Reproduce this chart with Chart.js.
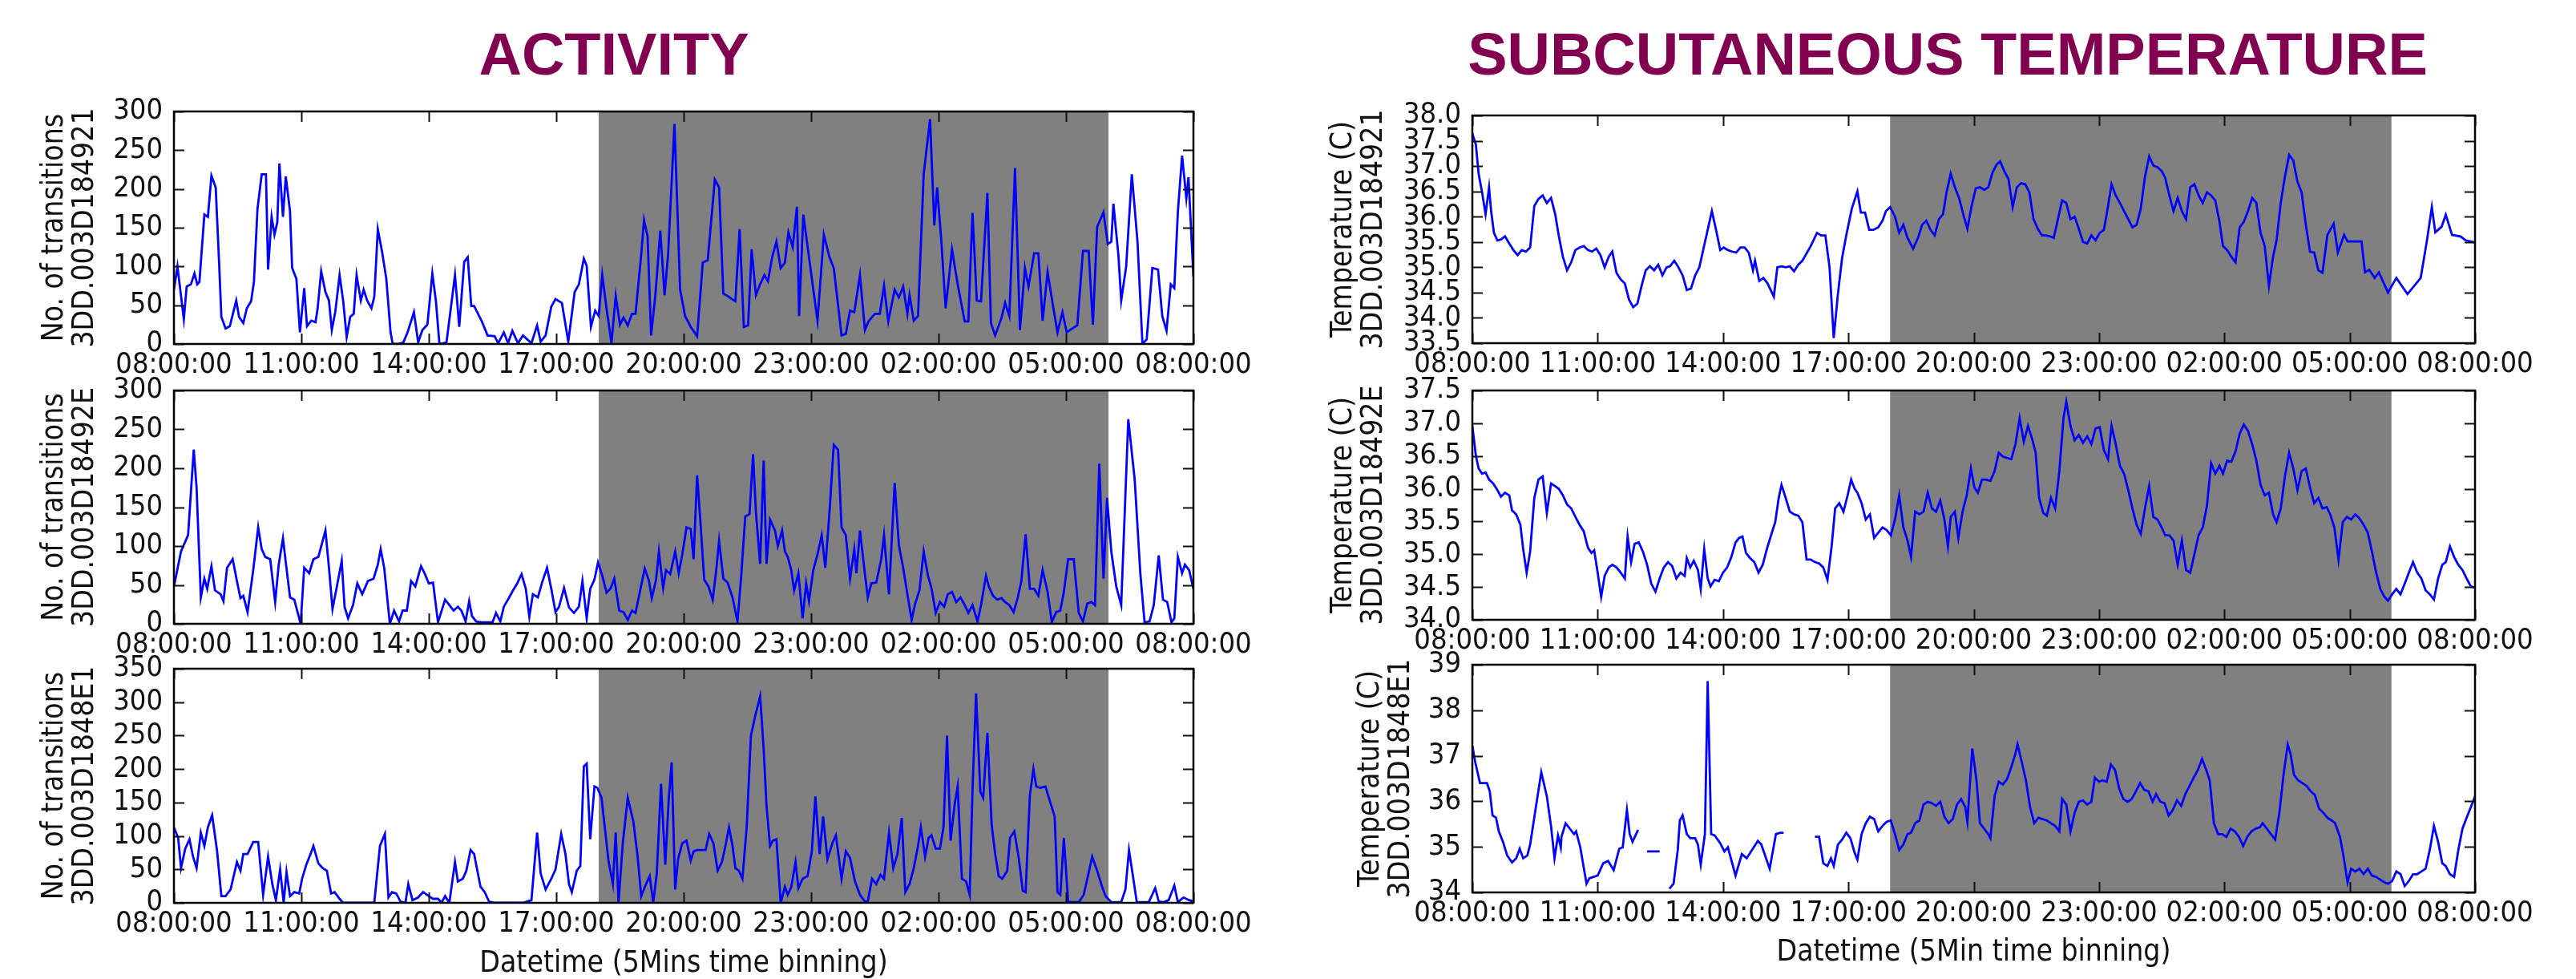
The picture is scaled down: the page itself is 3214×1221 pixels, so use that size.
<!DOCTYPE html>
<html>
<head>
<meta charset="utf-8">
<script src="https://cdn.jsdelivr.net/npm/chart.js@4.4.1/dist/chart.umd.min.js"></script>
<style>
  html, body { margin:0; padding:0; background:#fff; }
  body { width:3214px; height:1221px; overflow:hidden; position:relative; }
  .ttl { position:absolute; top:31px; width:1400px; text-align:center; font-family:"Liberation Sans", Arial, sans-serif;
         font-weight:bold; font-size:74px; line-height:74px; color:#810050; white-space:nowrap; }
</style>
</head>
<body>
<div class="ttl" style="left:66px">ACTIVITY</div>
<div class="ttl" style="left:1730px">SUBCUTANEOUS TEMPERATURE</div>
<script>
// ---------- DATA (time in minutes since 08:00, value) ----------
const X_TICK_LABELS = ['08:00:00','11:00:00','14:00:00','17:00:00','20:00:00','23:00:00','02:00:00','05:00:00','08:00:00'];
const DARK_PERIOD = [600, 1320]; // 18:00 -> 06:00

const ACT_921 = [[0,70],[5,100],[14,32],[18,74],[24,77],[29,91],[33,77],[36,80],[43,167],[48,164],[53,217],[59,202],[64,101],[67,35],[73,20],[79,23],[88,56],[92,35],[98,27],[103,46],[109,55],[113,80],[118,174],[124,219],[130,219],[133,96],[138,164],[142,141],[146,157],[149,233],[154,164],[158,216],[164,171],[167,98],[173,84],[178,15],[184,72],[188,23],[194,30],[200,28],[203,46],[208,94],[214,67],[219,56],[223,18],[228,42],[234,89],[239,56],[244,9],[249,35],[254,39],[258,89],[264,56],[268,70],[273,56],[279,46],[283,61],[288,148],[294,119],[300,84],[306,15],[309,0],[317,0],[324,2],[330,15],[339,41],[345,2],[351,18],[358,25],[365,91],[370,56],[375,0],[385,2],[397,89],[403,22],[410,106],[415,112],[420,49],[424,49],[435,29],[443,11],[453,10],[458,1],[466,15],[472,1],[478,17],[486,1],[493,11],[505,1],[513,24],[518,3],[525,11],[533,48],[539,58],[548,53],[557,3],[566,67],[572,77],[579,110],[583,101],[589,22],[595,43],[600,36],[605,89],[611,46],[618,1],[624,62],[630,25],[635,34],[641,24],[647,39],[652,39],[660,115],[664,160],[669,139],[674,11],[680,63],[687,146],[693,63],[698,115],[707,284],[715,70],[722,36],[730,22],[739,10],[747,105],[754,108],[764,212],[770,202],[776,65],[782,62],[788,58],[793,55],[799,148],[805,22],[811,24],[816,122],[822,63],[828,77],[834,89],[839,81],[845,112],[851,132],[857,98],[863,105],[868,144],[874,125],[880,177],[883,36],[889,167],[897,112],[909,30],[918,141],[926,112],[932,98],[943,11],[949,13],[955,43],[961,41],[969,89],[976,18],[981,29],[990,39],[997,39],[1003,75],[1009,29],[1018,70],[1024,60],[1030,74],[1036,39],[1039,63],[1045,30],[1051,36],[1059,219],[1068,290],[1074,153],[1078,202],[1084,132],[1090,46],[1099,122],[1107,77],[1117,29],[1122,29],[1128,169],[1134,56],[1140,55],[1149,195],[1154,27],[1160,11],[1169,34],[1174,53],[1180,36],[1188,227],[1195,18],[1202,98],[1207,74],[1215,117],[1221,117],[1227,30],[1234,93],[1241,53],[1248,15],[1255,41],[1261,15],[1269,20],[1276,24],[1284,120],[1292,120],[1298,25],[1304,151],[1313,170],[1319,129],[1324,132],[1327,181],[1334,115],[1338,56],[1345,100],[1353,219],[1361,132],[1368,0],[1374,6],[1382,98],[1390,96],[1396,36],[1402,17],[1408,77],[1413,72],[1418,170],[1424,243],[1430,188],[1433,215],[1440,87]];

const ACT_92E = [[0,48],[10,93],[20,114],[28,224],[32,175],[38,34],[43,58],[47,45],[53,74],[58,43],[66,38],[70,29],[75,72],[83,83],[89,55],[94,33],[98,36],[104,15],[112,69],[119,124],[124,96],[129,86],[136,83],[143,28],[148,76],[154,110],[158,79],[164,34],[170,31],[179,0],[184,72],[191,65],[197,83],[204,86],[214,120],[219,72],[224,19],[231,52],[237,81],[241,22],[246,7],[253,24],[259,52],[266,38],[274,55],[282,58],[288,76],[292,96],[297,72],[305,0],[311,17],[318,3],[323,17],[329,17],[335,55],[341,48],[349,74],[354,65],[360,52],[366,53],[373,2],[383,31],[389,24],[395,17],[401,22],[406,17],[412,3],[417,29],[421,10],[427,3],[435,2],[443,2],[450,2],[455,14],[461,3],[466,22],[473,33],[479,43],[485,52],[491,64],[497,45],[502,9],[507,38],[514,34],[520,53],[527,72],[533,45],[539,15],[544,22],[551,46],[558,21],[565,14],[572,22],[577,55],[583,7],[588,45],[594,57],[599,79],[605,62],[611,40],[617,46],[622,58],[629,17],[635,15],[641,5],[647,17],[652,14],[659,45],[665,71],[671,55],[675,33],[681,57],[685,93],[691,46],[695,69],[701,64],[708,93],[713,65],[718,89],[724,124],[730,122],[734,83],[739,191],[744,127],[749,57],[755,48],[761,31],[766,69],[770,107],[776,58],[782,53],[789,34],[796,3],[801,58],[807,138],[813,141],[818,218],[822,144],[828,77],[833,210],[837,77],[842,134],[849,120],[853,100],[859,120],[863,93],[867,86],[872,69],[876,43],[882,65],[888,7],[893,52],[897,29],[903,69],[909,89],[915,114],[920,72],[926,144],[932,230],[938,224],[943,124],[949,114],[955,58],[961,96],[964,65],[969,120],[975,72],[980,34],[985,52],[992,53],[999,83],[1003,114],[1010,38],[1018,181],[1024,101],[1030,72],[1036,38],[1042,5],[1047,26],[1053,43],[1059,93],[1065,62],[1070,46],[1076,14],[1082,28],[1088,22],[1093,38],[1099,41],[1105,28],[1111,34],[1117,24],[1122,14],[1128,24],[1135,3],[1140,24],[1147,62],[1151,48],[1157,36],[1163,31],[1169,33],[1174,28],[1180,24],[1186,15],[1192,34],[1197,55],[1203,115],[1209,45],[1215,45],[1221,36],[1227,69],[1234,41],[1240,2],[1246,15],[1252,17],[1257,41],[1263,83],[1271,83],[1278,14],[1284,3],[1290,26],[1296,28],[1301,24],[1307,206],[1313,58],[1318,162],[1324,93],[1331,48],[1338,24],[1348,263],[1357,186],[1365,65],[1371,2],[1378,3],[1384,24],[1391,88],[1397,31],[1403,28],[1409,2],[1413,7],[1418,86],[1424,65],[1428,76],[1434,69],[1440,45]];

const ACT_8E1 = [[0,113],[6,97],[10,52],[16,81],[22,95],[27,69],[32,52],[38,105],[43,85],[48,113],[54,131],[61,77],[67,10],[73,10],[80,20],[89,61],[94,48],[98,73],[104,73],[112,91],[119,91],[126,12],[133,69],[139,28],[144,4],[150,50],[155,0],[159,46],[164,10],[170,16],[177,14],[181,36],[187,57],[193,73],[197,85],[204,59],[210,52],[216,48],[222,14],[227,16],[234,6],[239,0],[283,0],[291,85],[298,103],[303,8],[308,16],[314,14],[320,2],[327,0],[331,28],[337,4],[345,8],[352,16],[360,10],[366,6],[373,6],[378,0],[383,10],[389,0],[397,61],[401,32],[408,36],[413,48],[419,79],[424,73],[433,24],[439,16],[445,2],[453,0],[493,0],[505,4],[513,105],[518,44],[525,20],[533,36],[539,50],[547,103],[553,73],[558,28],[562,16],[569,48],[574,55],[579,204],[583,208],[588,95],[594,174],[598,172],[604,157],[609,109],[614,61],[620,28],[624,105],[628,0],[634,89],[641,157],[649,121],[655,69],[660,10],[666,26],[672,40],[677,0],[682,44],[688,178],[694,57],[699,157],[703,210],[708,20],[712,65],[718,89],[724,93],[730,63],[734,77],[739,79],[751,79],[756,103],[762,89],[768,48],[774,61],[779,85],[784,113],[789,85],[793,52],[798,48],[803,36],[809,113],[815,250],[821,279],[828,309],[833,230],[837,145],[842,85],[846,93],[851,95],[857,0],[863,24],[867,12],[872,24],[878,61],[882,22],[888,36],[895,40],[901,77],[906,159],[912,73],[917,129],[923,65],[930,89],[935,101],[943,36],[949,77],[955,67],[962,32],[969,12],[976,2],[980,2],[986,36],[992,28],[998,42],[1003,36],[1010,105],[1016,52],[1022,73],[1028,127],[1033,16],[1039,28],[1045,52],[1051,85],[1055,113],[1061,69],[1066,97],[1070,101],[1076,81],[1082,81],[1087,113],[1092,250],[1097,93],[1103,149],[1107,174],[1113,36],[1119,32],[1124,12],[1128,170],[1133,313],[1139,166],[1143,157],[1149,254],[1155,117],[1160,73],[1165,40],[1170,36],[1177,48],[1181,97],[1187,107],[1193,69],[1199,18],[1203,16],[1209,161],[1214,200],[1218,174],[1224,172],[1231,174],[1237,153],[1244,129],[1248,16],[1252,12],[1257,97],[1263,2],[1269,1],[1278,1],[1285,12],[1291,40],[1297,69],[1304,48],[1311,24],[1316,10],[1324,1],[1338,1],[1344,20],[1349,79],[1354,44],[1360,1],[1377,1],[1386,22],[1391,2],[1398,1],[1405,4],[1413,26],[1418,1],[1426,8],[1434,4],[1440,2]];

const TEMP_921 = [[0,37.64],[5,37.43],[9,36.85],[14,36.48],[19,36.05],[24,36.58],[27,36.11],[31,35.68],[36,35.53],[41,35.55],[47,35.61],[53,35.47],[59,35.34],[65,35.24],[71,35.34],[77,35.31],[83,35.39],[89,36.21],[95,36.35],[101,36.42],[107,36.27],[113,36.37],[119,36.05],[124,35.63],[130,35.21],[136,34.94],[142,35.10],[148,35.34],[154,35.39],[160,35.42],[166,35.34],[172,35.31],[178,35.37],[184,35.24],[190,35.0],[196,35.21],[201,35.31],[207,34.89],[213,34.76],[219,34.68],[225,34.36],[231,34.21],[237,34.28],[243,34.63],[249,34.94],[255,35.02],[261,34.94],[267,35.05],[273,34.84],[279,35.0],[284,35.02],[290,35.13],[296,35.0],[302,34.84],[308,34.55],[314,34.58],[320,34.84],[326,35.0],[332,35.37],[338,35.74],[344,36.11],[350,35.74],[356,35.34],[361,35.39],[367,35.34],[373,35.31],[379,35.29],[385,35.39],[391,35.39],[397,35.29],[403,34.94],[406,35.13],[412,34.73],[418,34.79],[424,34.68],[433,34.42],[438,35.0],[444,35.02],[450,35.0],[456,35.02],[462,34.92],[468,35.05],[474,35.13],[486,35.42],[495,35.68],[501,35.63],[507,35.63],[513,35.0],[519,33.60],[525,34.47],[531,35.18],[537,35.63],[545,36.16],[553,36.50],[558,36.08],[564,36.08],[570,35.74],[576,35.74],[583,35.79],[589,35.92],[594,36.11],[600,36.19],[607,36.0],[613,35.68],[619,35.84],[625,35.58],[633,35.37],[640,35.58],[646,35.84],[652,35.92],[658,35.74],[664,35.63],[670,35.95],[676,36.05],[681,36.48],[687,36.85],[693,36.58],[699,36.37],[705,36.05],[711,35.76],[717,36.21],[723,36.56],[729,36.58],[735,36.53],[741,36.58],[747,36.87],[753,37.03],[758,37.09],[764,36.90],[770,36.74],[776,36.19],[782,36.58],[788,36.66],[794,36.64],[800,36.48],[806,35.95],[812,35.76],[818,35.63],[824,35.63],[830,35.61],[835,35.58],[841,35.95],[847,36.32],[853,36.27],[859,35.95],[865,36.0],[871,35.76],[877,35.50],[883,35.47],[889,35.63],[895,35.53],[901,35.68],[907,35.74],[913,36.21],[918,36.64],[924,36.42],[930,36.27],[936,36.11],[942,35.95],[948,35.79],[954,35.84],[960,36.16],[966,36.79],[972,37.19],[978,37.01],[984,36.98],[990,36.90],[995,36.77],[1001,36.42],[1007,36.11],[1013,36.37],[1019,36.11],[1025,35.95],[1031,36.58],[1037,36.64],[1043,36.42],[1049,36.27],[1055,36.48],[1061,36.42],[1067,36.32],[1073,35.90],[1078,35.42],[1084,35.34],[1090,35.21],[1096,35.10],[1102,35.79],[1108,35.90],[1114,36.11],[1120,36.37],[1126,36.27],[1132,35.68],[1138,35.42],[1144,34.63],[1150,35.21],[1155,35.53],[1161,36.27],[1167,36.79],[1173,37.22],[1179,37.11],[1185,36.69],[1191,36.48],[1197,35.84],[1203,35.31],[1209,35.29],[1215,34.94],[1221,34.89],[1228,35.64],[1237,35.86],[1243,35.29],[1252,35.64],[1257,35.51],[1277,35.51],[1282,34.90],[1288,34.95],[1296,34.79],[1302,34.90],[1315,34.50],[1327,34.79],[1343,34.47],[1362,34.79],[1371,35.53],[1378,36.19],[1383,35.69],[1392,35.80],[1398,36.04],[1407,35.64],[1419,35.61],[1427,35.53],[1440,35.49]];

const TEMP_92E = [[0,36.96],[5,36.51],[9,36.31],[14,36.23],[19,36.25],[24,36.14],[30,36.08],[36,35.98],[41,35.88],[47,35.94],[53,35.90],[57,35.67],[63,35.61],[69,35.45],[73,35.08],[78,34.72],[83,35.04],[89,35.86],[95,36.14],[101,36.19],[107,35.63],[113,36.08],[119,36.04],[124,36.00],[130,35.90],[136,35.76],[142,35.70],[148,35.57],[154,35.45],[160,35.35],[166,35.10],[171,35.02],[175,35.06],[180,34.72],[185,34.35],[190,34.67],[196,34.80],[201,34.84],[207,34.80],[213,34.72],[219,34.63],[223,35.27],[228,34.88],[233,35.16],[239,35.18],[245,35.04],[251,34.84],[257,34.55],[263,34.43],[269,34.63],[275,34.80],[281,34.88],[287,34.82],[293,34.63],[299,34.72],[305,34.67],[308,34.94],[313,34.80],[318,34.90],[324,34.76],[328,34.47],[333,35.08],[338,34.63],[342,34.51],[348,34.61],[354,34.59],[360,34.72],[366,34.80],[372,34.96],[378,35.18],[383,35.25],[388,35.27],[393,35.02],[399,34.94],[405,34.88],[411,34.72],[417,34.84],[423,35.08],[429,35.29],[435,35.49],[440,35.86],[444,36.06],[450,35.86],[456,35.65],[462,35.61],[468,35.59],[474,35.49],[480,34.92],[486,34.92],[492,34.88],[498,34.86],[504,34.80],[510,34.61],[516,35.12],[521,35.70],[527,35.78],[533,35.65],[539,35.90],[544,36.14],[549,36.00],[553,35.94],[559,35.78],[565,35.53],[571,35.61],[577,35.25],[583,35.33],[589,35.41],[595,35.37],[601,35.29],[607,35.53],[613,35.90],[619,35.41],[625,35.21],[630,34.96],[636,35.65],[642,35.61],[648,35.65],[654,35.94],[660,35.70],[666,35.65],[672,35.82],[678,35.53],[683,35.12],[687,35.57],[693,35.65],[698,35.25],[704,35.65],[710,35.90],[716,36.31],[721,36.02],[726,35.94],[732,36.14],[738,36.14],[744,36.12],[750,36.27],[756,36.55],[762,36.49],[768,36.47],[774,36.45],[780,36.68],[786,37.08],[792,36.72],[798,36.96],[804,36.76],[809,36.55],[814,35.86],[820,35.63],[825,35.59],[831,35.86],[837,35.70],[843,36.27],[849,37.08],[853,37.33],[859,36.96],[865,36.74],[871,36.82],[877,36.70],[883,36.80],[889,36.68],[895,36.92],[901,36.94],[907,36.59],[913,36.45],[918,36.96],[924,36.68],[930,36.35],[936,36.23],[942,35.98],[948,35.70],[954,35.45],[960,35.31],[966,35.70],[972,36.04],[978,35.57],[984,35.53],[990,35.41],[995,35.29],[1001,35.29],[1007,35.21],[1013,34.84],[1019,35.21],[1025,34.76],[1031,34.72],[1037,35.00],[1043,35.29],[1049,35.41],[1055,35.74],[1061,36.39],[1067,36.23],[1073,36.35],[1078,36.23],[1084,36.43],[1090,36.41],[1096,36.57],[1102,36.84],[1108,36.98],[1114,36.88],[1120,36.68],[1126,36.43],[1132,36.06],[1138,35.90],[1144,35.94],[1150,35.61],[1155,35.49],[1161,35.70],[1167,36.19],[1173,36.55],[1179,36.31],[1185,35.98],[1191,36.27],[1197,36.31],[1203,36.02],[1209,35.78],[1215,35.86],[1221,35.70],[1227,35.72],[1232,35.61],[1238,35.41],[1244,34.92],[1250,35.49],[1256,35.57],[1262,35.53],[1268,35.61],[1274,35.55],[1280,35.45],[1286,35.33],[1292,35.04],[1298,34.72],[1304,34.47],[1310,34.35],[1315,34.29],[1321,34.39],[1327,34.47],[1333,34.39],[1339,34.55],[1345,34.72],[1351,34.88],[1357,34.72],[1363,34.63],[1369,34.45],[1375,34.39],[1381,34.31],[1387,34.63],[1393,34.84],[1398,34.88],[1404,35.12],[1410,34.96],[1416,34.84],[1422,34.76],[1428,34.63],[1434,34.51],[1440,34.49]];

const TEMP_8E1 = [[0,37.22],[4,36.87],[11,36.40],[21,36.40],[25,36.22],[29,35.69],[34,35.64],[38,35.34],[44,35.11],[50,34.81],[57,34.66],[63,34.75],[68,34.96],[73,34.75],[79,34.81],[83,35.05],[90,35.75],[99,36.64],[107,36.11],[113,35.46],[118,34.75],[123,35.25],[127,34.99],[128,35.22],[134,35.52],[140,35.40],[146,35.28],[149,35.34],[155,34.99],[164,34.19],[168,34.31],[174,34.34],[180,34.37],[188,34.64],[195,34.69],[203,34.49],[211,34.96],[216,34.99],[222,35.81],[226,35.28],[230,35.11],[238,35.37],[244,null],[251,34.90],[269,34.90],[276,null],[283,34.08],[289,34.19],[295,34.93],[298,35.58],[302,35.69],[308,35.28],[313,35.19],[320,35.19],[324,35.05],[328,34.61],[334,35.28],[338,38.64],[343,35.28],[348,35.25],[356,35.08],[362,34.90],[367,34.99],[378,34.37],[387,34.84],[394,34.75],[410,35.13],[415,35.05],[427,34.52],[436,35.28],[442,35.31],[447,35.31],[470,null],[492,35.22],[498,35.22],[504,34.64],[510,34.58],[515,34.75],[519,34.58],[525,35.05],[531,35.16],[537,35.31],[543,35.19],[549,34.87],[553,34.72],[559,35.28],[565,35.52],[571,35.66],[577,35.61],[583,35.34],[589,35.46],[595,35.55],[601,35.58],[607,35.28],[613,34.93],[619,35.05],[625,35.28],[630,35.31],[636,35.52],[642,35.58],[648,35.93],[654,35.99],[660,35.96],[666,35.90],[672,35.99],[678,35.66],[684,35.52],[690,35.61],[696,35.93],[702,36.05],[708,35.87],[711,35.55],[718,37.16],[724,36.46],[729,35.52],[735,35.40],[741,35.28],[744,35.19],[750,36.11],[756,36.43],[762,36.37],[768,36.49],[774,36.75],[780,37.05],[783,37.25],[789,36.87],[795,36.46],[801,35.87],[807,35.52],[813,35.64],[819,35.61],[825,35.58],[831,35.52],[837,35.46],[843,35.34],[847,36.05],[853,35.93],[859,35.34],[865,35.75],[871,35.99],[877,36.02],[883,35.93],[889,35.99],[894,36.52],[900,36.43],[905,36.46],[911,36.43],[917,36.81],[923,36.69],[929,36.28],[935,36.05],[941,35.99],[947,36.05],[953,36.22],[959,36.40],[965,36.25],[971,36.22],[977,35.99],[982,36.16],[988,35.99],[994,35.96],[1000,35.69],[1006,35.81],[1012,36.02],[1018,35.90],[1024,36.16],[1030,36.34],[1036,36.52],[1042,36.69],[1048,36.93],[1054,36.69],[1059,36.46],[1065,35.52],[1071,35.28],[1077,35.28],[1083,35.22],[1089,35.40],[1095,35.34],[1101,35.22],[1107,35.02],[1113,35.22],[1119,35.34],[1125,35.40],[1131,35.43],[1135,35.52],[1141,35.40],[1147,35.28],[1153,35.16],[1159,35.75],[1165,36.58],[1171,37.25],[1175,37.05],[1180,36.58],[1186,36.46],[1192,36.40],[1198,36.34],[1204,36.22],[1210,36.14],[1216,35.84],[1222,35.75],[1228,35.64],[1234,35.58],[1239,35.52],[1246,35.22],[1251,34.81],[1257,34.22],[1262,34.52],[1268,34.46],[1274,34.52],[1280,34.40],[1286,34.52],[1292,34.37],[1298,34.34],[1304,34.28],[1310,34.22],[1315,34.19],[1321,34.25],[1327,34.46],[1333,34.40],[1339,34.14],[1345,34.25],[1351,34.40],[1357,34.40],[1363,34.46],[1369,34.52],[1375,34.93],[1381,35.46],[1387,35.11],[1393,34.64],[1398,34.58],[1404,34.40],[1410,34.34],[1416,34.93],[1422,35.40],[1428,35.64],[1434,35.87],[1440,36.11]];

const Y_TITLES_ACT  = ['No. of transitions', 'No. of transitions', 'No. of transitions'];
const Y_TITLES_TEMP = ['Temperature (C)', 'Temperature (C)', 'Temperature (C)'];
const TAG_IDS = ['3DD.003D184921', '3DD.003D18492E', '3DD.003D1848E1'];
const X_TITLE_ACT  = 'Datetime (5Mins time binning)';
const X_TITLE_TEMP = 'Datetime (5Min time binning)';

// ---------- LAYOUT / STYLE ----------
const FONT = "'DejaVu Sans Condensed', 'DejaVu Sans', sans-serif";
const COLS = {
  L: { left: 0,    width: 1600, areaLeft: 217, padRight: 111 },
  R: { left: 1600, width: 1614, areaLeft: 237, padRight: 126 }
};
const PAD_TOP = 40;
const PANELS = [
  { col:'L', top:139, bottom:429, data:ACT_921, yMin:0, yMax:300, yStep:50, dec:0, yTitle:[Y_TITLES_ACT[0], TAG_IDS[0]], titlePad:48.6, below:60 },
  { col:'L', top:487, bottom:778, data:ACT_92E, yMin:0, yMax:300, yStep:50, dec:0, yTitle:[Y_TITLES_ACT[1], TAG_IDS[1]], titlePad:48.6, below:60 },
  { col:'L', top:834, bottom:1126, data:ACT_8E1, yMin:0, yMax:350, yStep:50, dec:0, yTitle:[Y_TITLES_ACT[2], TAG_IDS[2]], titlePad:48.6, below:99, xTitle:X_TITLE_ACT },
  { col:'R', top:144, bottom:428, data:TEMP_921, yMin:33.5, yMax:38, yStep:0.5, dec:1, yTitle:[Y_TITLES_TEMP[0], TAG_IDS[0]], titlePad:56.6, below:60 },
  { col:'R', top:487, bottom:773, data:TEMP_92E, yMin:34, yMax:37.5, yStep:0.5, dec:1, yTitle:[Y_TITLES_TEMP[1], TAG_IDS[1]], titlePad:56.6, below:60 },
  { col:'R', top:829, bottom:1113, data:TEMP_8E1, yMin:34, yMax:39, yStep:1, dec:0, yTitle:[Y_TITLES_TEMP[2], TAG_IDS[2]], titlePad:90.6, below:98, xTitle:X_TITLE_TEMP }
];

const frameAndShade = {
  id: 'frameAndShade',
  beforeDatasetsDraw(chart) {
    const { ctx, chartArea: a, scales: { x } } = chart;
    const x0 = x.getPixelForValue(DARK_PERIOD[0]);
    const x1 = x.getPixelForValue(DARK_PERIOD[1]);
    ctx.save();
    ctx.fillStyle = '#808080';
    ctx.fillRect(x0, a.top, x1 - x0, a.bottom - a.top);
    ctx.restore();
  },
  afterDatasetsDraw(chart) {
    const { ctx, chartArea: a, scales: { x, y } } = chart;
    const TL = 13;
    ctx.save();
    ctx.strokeStyle = '#111';
    ctx.lineWidth = 2;
    ctx.beginPath();
    x.ticks.forEach(t => {
      const px = Math.round(x.getPixelForValue(t.value)) + 0.5;
      ctx.moveTo(px, a.bottom); ctx.lineTo(px, a.bottom - TL);
      ctx.moveTo(px, a.top); ctx.lineTo(px, a.top + TL);
    });
    y.ticks.forEach(t => {
      const py = Math.round(y.getPixelForValue(t.value)) + 0.5;
      ctx.moveTo(a.left, py); ctx.lineTo(a.left + TL, py);
      ctx.moveTo(a.right, py); ctx.lineTo(a.right - TL, py);
    });
    ctx.stroke();
    ctx.lineWidth = 2.5;
    ctx.strokeStyle = '#000';
    ctx.strokeRect(a.left, a.top, a.right - a.left, a.bottom - a.top);
    ctx.restore();
  }
};

function makePanel(p) {
  const col = COLS[p.col];
  const h = PAD_TOP + (p.bottom - p.top) + p.below;
  const canvas = document.createElement('canvas');
  canvas.width = col.width; canvas.height = h;
  canvas.style.cssText = `position:absolute;left:${col.left}px;top:${p.top - PAD_TOP}px;width:${col.width}px;height:${h}px;`;
  document.body.appendChild(canvas);
  const points = p.data.map(d => ({ x: d[0], y: d[1] }));
  new Chart(canvas, {
    type: 'line',
    data: { datasets: [{ data: points, borderColor: '#0000ff', borderWidth: 2.8, pointRadius: 0, tension: 0, spanGaps: false, fill: false }] },
    options: {
      responsive: false, animation: false, devicePixelRatio: 1,
      layout: { padding: { top: PAD_TOP, right: col.padRight, left: 0, bottom: 0 } },
      plugins: { legend: { display: false }, tooltip: { enabled: false } },
      scales: {
        x: {
          type: 'linear', min: 0, max: 1440,
          grid: { display: false, drawTicks: false }, border: { display: false },
          ticks: { stepSize: 180, autoSkip: false, maxRotation: 0, minRotation: 0, padding: 5, color: '#111',
                   font: { family: FONT, size: 36 }, callback: (v, i) => X_TICK_LABELS[i] },
          title: { display: !!p.xTitle, text: p.xTitle || '', color: '#111', padding: 0,
                   font: { family: FONT, size: 37, lineHeight: 1.2 } },
          afterFit: s => { s.height = p.below; }
        },
        y: {
          type: 'linear', min: p.yMin, max: p.yMax,
          grid: { display: false, drawTicks: false }, border: { display: false },
          ticks: { stepSize: p.yStep, autoSkip: false, padding: 14, color: '#111',
                   font: { family: FONT, size: 36 }, callback: v => Number(v).toFixed(p.dec) },
          title: { display: true, text: p.yTitle, color: '#111', padding: { top: p.titlePad, bottom: 0 },
                   font: { family: FONT, size: 37, lineHeight: 1.05 } },
          afterFit: s => { s.width = col.areaLeft; }
        }
      }
    },
    plugins: [frameAndShade]
  });
}
PANELS.forEach(makePanel);
</script>
</body>
</html>
